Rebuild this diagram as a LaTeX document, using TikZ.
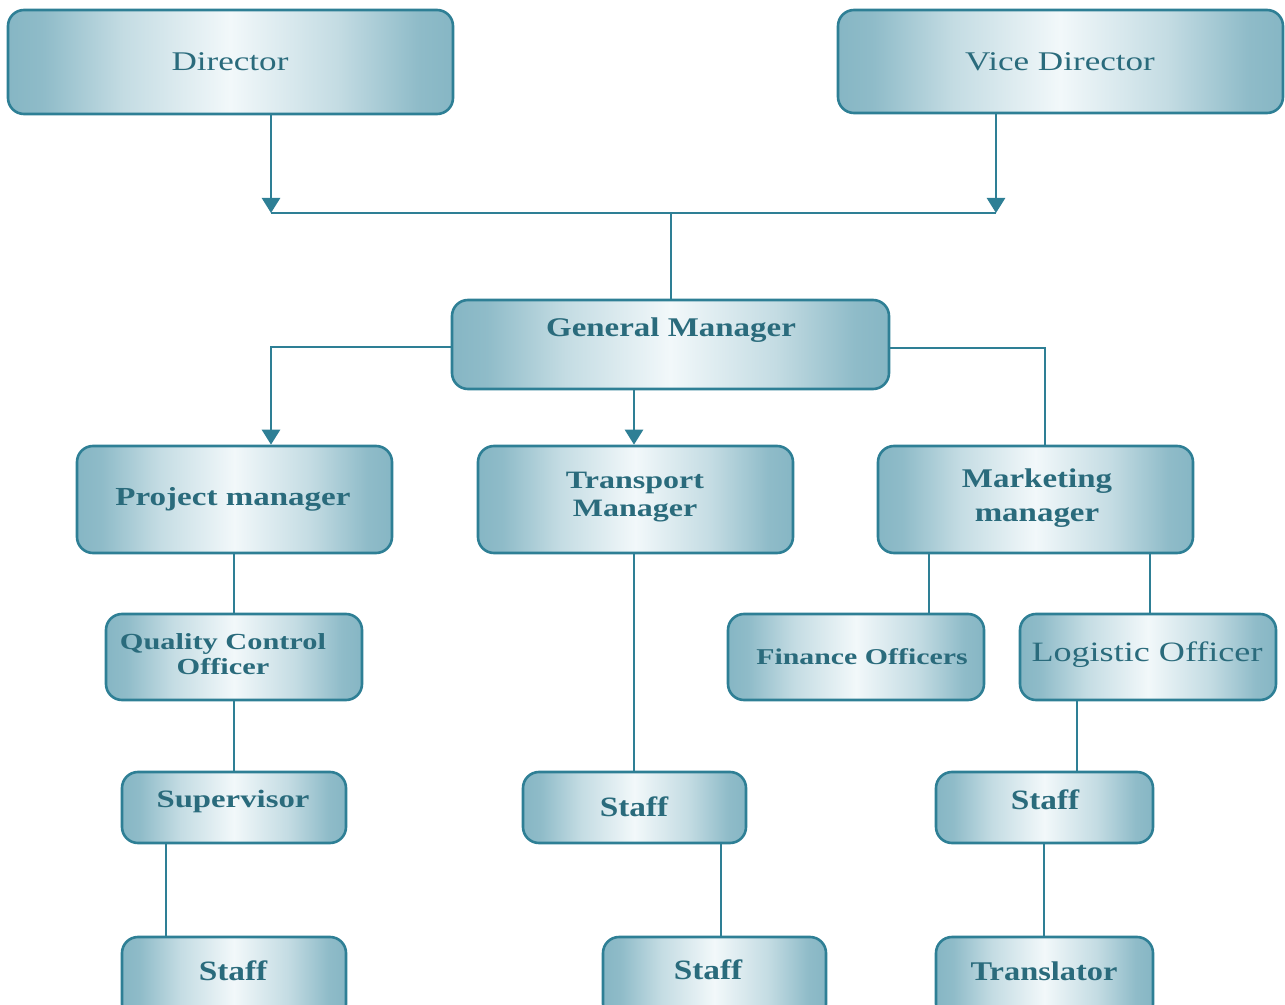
\documentclass[tikz,border=0pt]{standalone}
\usepackage{fontspec}
\setmainfont{Liberation Serif}
\usetikzlibrary{fit,arrows.meta}
\definecolor{edge}{HTML}{2E7F95}
\definecolor{outerc}{HTML}{86B6C4}
\definecolor{midc}{HTML}{C4DCE3}
\definecolor{centerc}{HTML}{F2F8FA}
\definecolor{txt}{HTML}{2A6B7C}
\pgfdeclarehorizontalshading{boxshade}{100bp}{%
  color(0bp)=(outerc); color(25bp)=(outerc); color(29bp)=(outerc!85!midc);
  color(38bp)=(midc); color(50bp)=(centerc); color(62bp)=(midc);
  color(71bp)=(outerc!85!midc); color(75bp)=(outerc); color(100bp)=(outerc)}
\tikzset{
  box/.style={draw=edge, line width=1.3pt, rounded corners=8pt, inner sep=0pt,
    shading=boxshade},
  link/.style={draw=edge, line width=1.3pt},
  arr/.style={link, -{Triangle[width=9pt,length=7.5pt]}},
  lbl/.style={text=txt, align=center, inner sep=0pt},
}
\begin{document}
\begin{tikzpicture}[x=0.5pt,y=-0.5pt]
\useasboundingbox (0,0) rectangle (1285,1005);
% boxes
\node[box, fit={(8,10)(453,114)}] (dir) {};
\node[box, fit={(838,10)(1283,113)}] (vdir) {};
\node[box, fit={(452,300)(889,389)}] (gm) {};
\node[box, fit={(77,446)(392,553)}] (pm) {};
\node[box, fit={(478,446)(793,553)}] (tm) {};
\node[box, fit={(878,446)(1193,553)}] (mm) {};
\node[box, fit={(106,614)(362,700)}] (qc) {};
\node[box, fit={(728,614)(984,700)}] (fo) {};
\node[box, fit={(1020,614)(1276,700)}] (lo) {};
\node[box, fit={(122,772)(346,843)}] (sup) {};
\node[box, fit={(523,772)(746,843)}] (st2) {};
\node[box, fit={(936,772)(1153,843)}] (st3) {};
\begin{scope}
\clip (0,0) rectangle (1285,1005);
\node[box, fit={(122,937)(346,1020)}] (st1b) {};
\node[box, fit={(603,937)(826,1020)}] (st2b) {};
\node[box, fit={(936,937)(1153,1020)}] (tr) {};
\end{scope}
% labels
\node[lbl, xscale=1.3, font=\fontsize{13.5}{15}\selectfont] (tdir) at (230,62) {Director};
\node[lbl, xscale=1.3, font=\fontsize{13.5}{15}\selectfont] (tvdir) at (1060,62) {Vice Director};
\node[lbl, xscale=1.22, font=\bfseries\fontsize{13.5}{15}\selectfont] (tgm) at (671,330) {General Manager};
\node[lbl, xscale=1.27, font=\bfseries\fontsize{13}{15}\selectfont] (tpm) at (233,499) {Project manager};
\node[lbl, xscale=1.28, font=\bfseries\fontsize{12.5}{14}\selectfont] (ttm) at (635,497) {Transport\\Manager};
\node[lbl, xscale=1.22, font=\bfseries\fontsize{13.5}{17}\selectfont] (tmm) at (1037,498) {Marketing\\manager};
\node[lbl, xscale=1.32, font=\bfseries\fontsize{11.5}{12.5}\selectfont] (tqc) at (223,654) {Quality Control\\Officer};
\node[lbl, xscale=1.32, font=\bfseries\fontsize{11.3}{13}\selectfont] (tfo) at (862,657) {Finance Officers};
\node[lbl, xscale=1.29, font=\fontsize{14}{15}\selectfont] (tlo) at (1147,655) {Logistic Officer};
\node[lbl, xscale=1.31, font=\bfseries\fontsize{12.5}{15}\selectfont] (tsup) at (233,801) {Supervisor};
\node[lbl, xscale=1.19, font=\bfseries\fontsize{14}{15}\selectfont] (tst2) at (634,807) {Staff};
\node[lbl, xscale=1.19, font=\bfseries\fontsize{14}{15}\selectfont] (tst3) at (1045,800) {Staff};
\node[lbl, xscale=1.19, font=\bfseries\fontsize{14}{15}\selectfont] (tst1b) at (233,971) {Staff};
\node[lbl, xscale=1.19, font=\bfseries\fontsize{14}{15}\selectfont] (tst2b) at (708,970) {Staff};
\node[lbl, xscale=1.2, font=\bfseries\fontsize{13.5}{15}\selectfont] (ttr) at (1044,971) {Translator};
% junction coordinates
\coordinate (j1) at (271,213);
\coordinate (j2) at (996,213);
\coordinate (j3) at (671,213);
\coordinate (k1) at (271,347);
\coordinate (k2) at (634,420);
\coordinate (k3) at (1045,348);
\coordinate (v1) at (234,0);
\coordinate (v2) at (166,0);
\coordinate (v3) at (721,0);
\coordinate (v4) at (929,0);
\coordinate (v5) at (1150,0);
\coordinate (v6) at (1077,0);
\coordinate (v7) at (1044,0);
% connectors
\draw[arr] (dir.south -| j1) -- (j1);
\draw[arr] (vdir.south -| j2) -- (j2);
\draw[link] (j1) -- (j2);
\draw[link] (j3) -- (gm.north -| j3);
\draw[arr] (gm.west |- k1) -- (k1) -- (pm.north -| k1);
\draw[arr] (gm.south -| k2) -- (tm.north -| k2);
\draw[link] (gm.east |- k3) -- (k3) -- (mm.north -| k3);
\draw[link] (pm.south -| v1) -- (qc.north -| v1);
\draw[link] (qc.south -| v1) -- (sup.north -| v1);
\draw[link] (sup.south -| v2) -- (st1b.north -| v2);
\draw[link] (tm.south -| k2) -- (st2.north -| k2);
\draw[link] (st2.south -| v3) -- (st2b.north -| v3);
\draw[link] (mm.south -| v4) -- (fo.north -| v4);
\draw[link] (mm.south -| v5) -- (lo.north -| v5);
\draw[link] (lo.south -| v6) -- (st3.north -| v6);
\draw[link] (st3.south -| v7) -- (tr.north -| v7);
\end{tikzpicture}
\end{document}
